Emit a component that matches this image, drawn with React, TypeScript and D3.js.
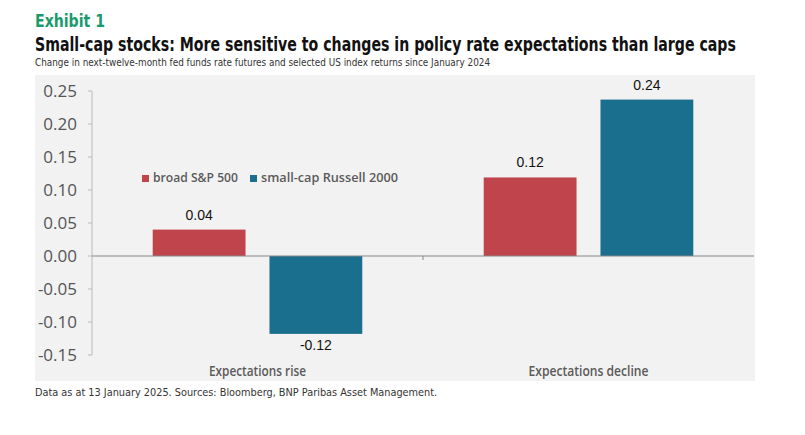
import React, { useLayoutEffect, useRef, useState } from "react";
import * as d3 from "d3";

const categories = ["Expectations rise", "Expectations decline"];
const seriesNames = ["broad S&P 500", "small-cap Russell 2000"];
const sp500Values = [0.04, 0.119];
const russellValues = [-0.118, 0.237];
const yTicks = [0.25, 0.2, 0.15, 0.1, 0.05, 0, -0.05, -0.1, -0.15];
const colors = ["#c0444c", "#1a6f8f"];

const W = 805;
const H = 435;

function FitText(props: any) {
  const { x, y, width, anchor = "start", children, ...rest } = props;
  const ref = useRef<SVGTextElement>(null);
  const [s, setS] = useState(1);
  useLayoutEffect(() => {
    if (ref.current) {
      const w = ref.current.getComputedTextLength();
      if (w > 0) setS(width / w);
    }
  }, [width]);
  return (
    <text ref={ref} transform={`translate(${x},${y}) scale(${s},1)`} x={0} y={0} textAnchor={anchor} {...rest}>
      {children}
    </text>
  );
}

export default function App() {
  const x0 = d3.scaleBand<string>().domain(categories).range([92, 754]).paddingInner(0).paddingOuter(0);
  const x1 = d3.scaleBand<string>().domain(seriesNames).range([0, x0.bandwidth()]).paddingInner(0.205).paddingOuter(0.52);
  const y = d3.scaleLinear().domain([-0.15, 0.25]).range([355, 91]);
  const fmt = (v: number) => d3.format(".2f")(v).replace("\u2212", "-");
  const series = [sp500Values, russellValues];
  const dv = "'DejaVu Sans', sans-serif";
  const sans = "'Open Sans', 'Liberation Sans', sans-serif";
  const legendLen = [85, 137];
  const catLen = [97, 120];

  return (
    <svg width={W} height={H} style={{ position: "absolute", left: 0, top: 0, background: "#fff" }}>
      <FitText x={35} y={27} width={70} fill="#1a9a6c" fontFamily={dv} fontWeight="bold" fontSize={18}>Exhibit 1</FitText>
      <FitText x={35} y={51} width={701} fill="#111" fontFamily={dv} fontWeight="bold" fontSize={19}>
        Small-cap stocks: More sensitive to changes in policy rate expectations than large caps
      </FitText>
      <FitText x={35} y={66} width={456} fill="#333" fontFamily={dv} fontSize={10}>
        Change in next-twelve-month fed funds rate futures and selected US index returns since January 2024
      </FitText>
      <rect x={35} y={75} width={720} height={306} fill="#f2f2f2" />

      {/* y axis */}
      <line x1={92} x2={92} y1={y(0.25)} y2={y(-0.15)} stroke="#bbb" strokeWidth={1} />
      {yTicks.map((t) => (
        <g key={t}>
          <line x1={88} x2={92} y1={y(t)} y2={y(t)} stroke="#bbb" />
          <text x={77} y={y(t)} dy="0.35em" textAnchor="end" fill="#555" fontFamily={sans} fontSize={17}>
            {fmt(t)}
          </text>
        </g>
      ))}

      {/* bars */}
      {categories.map((c, ci) => (
        <g key={c}>
          {seriesNames.map((s, si) => {
            const v = series[si][ci];
            const bx = (x0(c) as number) + (x1(s) as number);
            const top = y(Math.max(0, v));
            const h = Math.abs(y(v) - y(0));
            return (
              <g key={s}>
                <rect x={bx} y={top} width={x1.bandwidth()} height={h} fill={colors[si]} />
                <text
                  x={bx + x1.bandwidth() / 2}
                  y={v >= 0 ? y(v) - 10 : y(v) + 16}
                  textAnchor="middle"
                  fill="#111"
                  fontFamily="'Liberation Sans', Arial, sans-serif"
                  fontSize={14}
                >
                  {fmt(v)}
                </text>
              </g>
            );
          })}
          <FitText
            x={(x0(c) as number) + x0.bandwidth() / 2}
            y={376}
            width={catLen[ci]}
            anchor="middle"
            fill="#5a5a5a"
            fontFamily={sans}
            fontWeight={600}
            fontSize={14}
          >
            {c}
          </FitText>
        </g>
      ))}

      {/* zero line */}
      <line x1={92} x2={754} y1={y(0)} y2={y(0)} stroke="#888" strokeWidth={1} />
      <line x1={x0(categories[1]) as number} x2={x0(categories[1]) as number} y1={y(0)} y2={y(0) + 4} stroke="#888" />

      {/* legend */}
      {seriesNames.map((s, i) => {
        const lx = [142, 250][i];
        return (
          <g key={s}>
            <rect x={lx} y={175} width={7} height={7} fill={colors[i]} />
            <FitText x={lx + 11} y={182} width={legendLen[i]} fill="#5a5a5a" fontFamily={sans} fontWeight={600} fontSize={13}>
              {s}
            </FitText>
          </g>
        );
      })}

      <FitText x={35} y={396} width={403} fill="#333" fontFamily={dv} fontSize={11}>
        Data as at 13 January 2025. Sources: Bloomberg, BNP Paribas Asset Management.
      </FitText>
    </svg>
  );
}
